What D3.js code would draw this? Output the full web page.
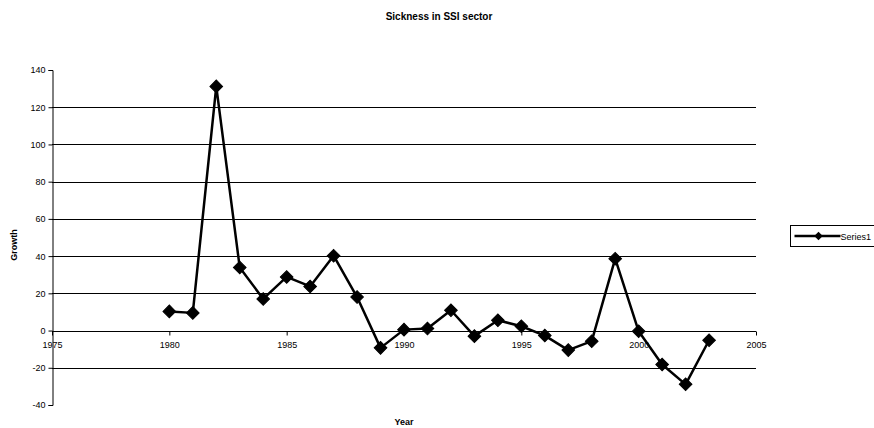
<!DOCTYPE html>
<html>
<head>
<meta charset="utf-8">
<script src="https://cdn.jsdelivr.net/npm/d3@7"></script>
<style>
  body { margin: 0; background: #fff; }
  text { font-family: "Liberation Sans", Arial, sans-serif; fill: #000; }
</style>
</head>
<body>
<svg id="chart" width="874" height="428"></svg>
<script>
// Annual growth of sickness in the SSI sector
const years = [1980, 1981, 1982, 1983, 1984, 1985, 1986, 1987, 1988, 1989, 1990, 1991,
               1992, 1993, 1994, 1995, 1996, 1997, 1998, 1999, 2000, 2001, 2002, 2003];
const growth = [10.3, 9.5, 131.2, 33.9, 17.0, 28.8, 23.7, 40.2, 18.0, -9.3, 0.5, 1.1,
                10.9, -3.0, 5.5, 2.3, -2.7, -10.5, -5.7, 38.6, -0.4, -18.2, -28.9, -5.2];
const xTicks = [1975, 1980, 1985, 1990, 1995, 2000, 2005];
const yTicks = [-40, -20, 0, 20, 40, 60, 80, 100, 120, 140];
const seriesName = "Series1";

const svg = d3.select("#chart");
const plot = { left: 52, right: 756, top: 70, bottom: 405 };

const x = d3.scaleLinear().domain([1975, 2005]).range([plot.left, plot.right]);
const y = d3.scaleLinear().domain([-40, 140]).range([plot.bottom, plot.top]);

// Plain hyphen-minus labels
const plain = d => String(d);

// Title
svg.append("text")
  .attr("x", 439).attr("y", 20)
  .attr("text-anchor", "middle")
  .style("font-size", "10px").style("font-weight", "bold")
  .text("Sickness in SSI sector");

// Horizontal gridlines (excluding the axis extremes)
svg.append("g")
  .selectAll("line")
  .data(yTicks.filter(v => v !== -40 && v !== 140 && v !== 0))
  .join("line")
  .attr("x1", plot.left).attr("x2", plot.right)
  .attr("y1", d => Math.round(y(d)) + 0.5).attr("y2", d => Math.round(y(d)) + 0.5)
  .attr("stroke", "#000").attr("stroke-width", 1);

// Y axis
const yAxis = svg.append("g")
  .attr("transform", `translate(${plot.left + 0.5},0)`)
  .call(d3.axisLeft(y).tickValues(yTicks).tickSize(4).tickPadding(3).tickFormat(plain));
yAxis.select(".domain").attr("stroke", "#000");
yAxis.selectAll("text").style("font-size", "9px").style("font-family", "Liberation Sans, Arial, sans-serif");

// X axis drawn along the zero line
const xAxis = svg.append("g")
  .attr("transform", `translate(0,${Math.round(y(0)) + 0.5})`)
  .call(d3.axisBottom(x).tickValues(xTicks).tickSize(4).tickPadding(6).tickFormat(plain));
xAxis.select(".domain").attr("stroke", "#000").attr("d", `M${plot.left},0H${plot.right}`);
xAxis.selectAll("text").style("font-size", "9px").style("font-family", "Liberation Sans, Arial, sans-serif");

// Axis titles
svg.append("text")
  .attr("transform", `translate(17,245) rotate(-90)`)
  .attr("text-anchor", "middle")
  .style("font-size", "9px").style("font-weight", "bold")
  .text("Growth");
svg.append("text")
  .attr("x", (plot.left + plot.right) / 2).attr("y", 425)
  .attr("text-anchor", "middle")
  .style("font-size", "9px").style("font-weight", "bold")
  .text("Year");

// Series line
const data = years.map((yr, i) => ({ yr, v: growth[i] }));
svg.append("path")
  .datum(data)
  .attr("fill", "none").attr("stroke", "#000").attr("stroke-width", 2.5)
  .attr("stroke-linejoin", "round")
  .attr("d", d3.line().x(d => x(d.yr)).y(d => y(d.v)));

// Diamond markers
const diamond = d3.symbol().type(d3.symbolSquare).size(80);
svg.append("g")
  .selectAll("path")
  .data(data)
  .join("path")
  .attr("d", diamond)
  .attr("transform", d => `translate(${x(d.yr)},${y(d.v)}) rotate(45)`)
  .attr("fill", "#000").attr("stroke", "#000").attr("stroke-width", 1);

// Legend
const lg = svg.append("g").attr("transform", "translate(790.5,225.5)");
lg.append("rect").attr("width", 100).attr("height", 21)
  .attr("fill", "#fff").attr("stroke", "#000").attr("stroke-width", 1);
lg.append("line").attr("x1", 4).attr("x2", 50).attr("y1", 10.5).attr("y2", 10.5)
  .attr("stroke", "#000").attr("stroke-width", 2.5);
lg.append("path").attr("d", d3.symbol().type(d3.symbolSquare).size(36))
  .attr("transform", "translate(28,10.5) rotate(45)").attr("fill", "#000");
lg.append("text").attr("x", 50).attr("y", 14)
  .style("font-size", "9px").text(seriesName);
</script>
</body>
</html>
